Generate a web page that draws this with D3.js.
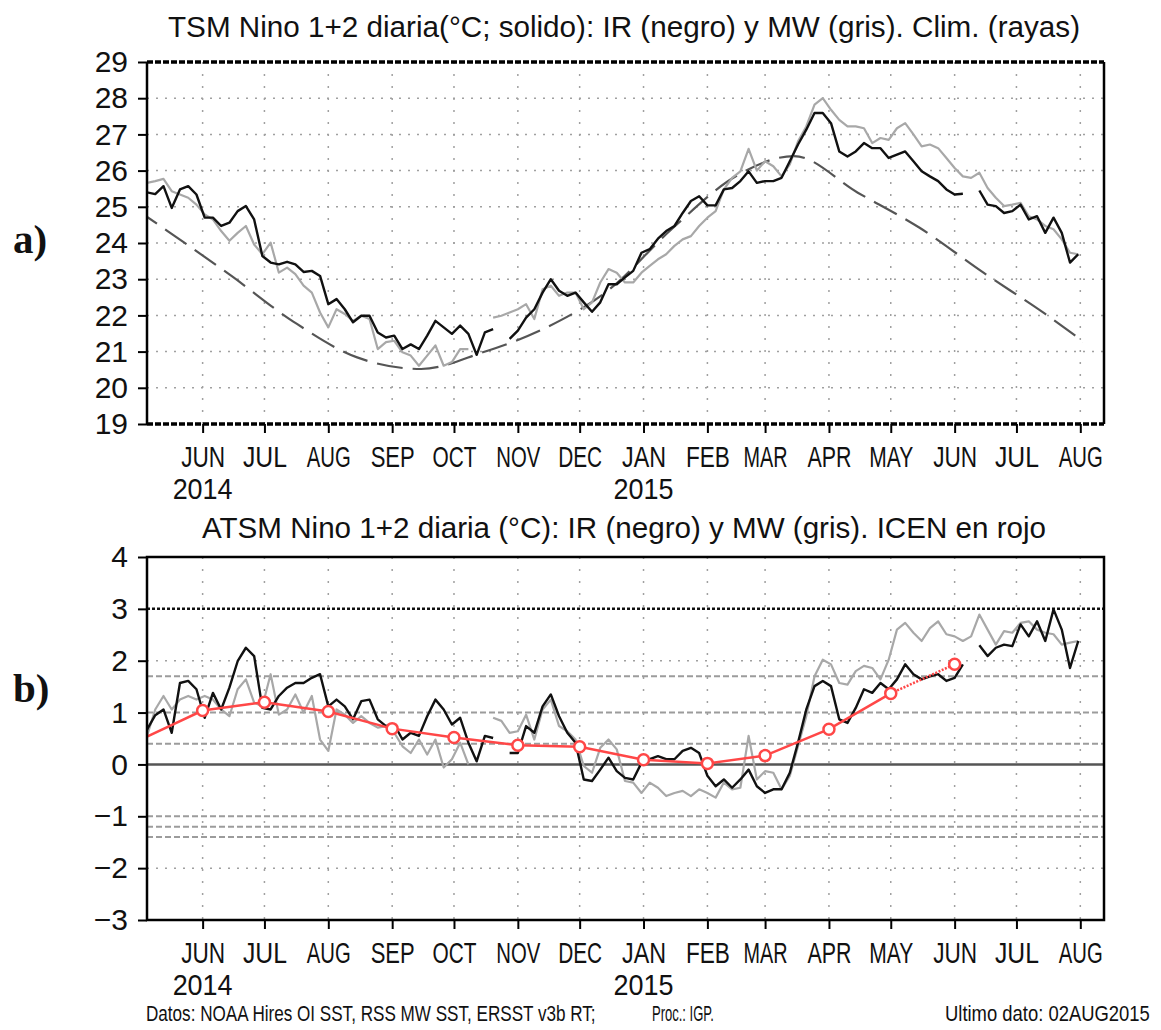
<!DOCTYPE html>
<html lang="es">
<head>
  <meta charset="UTF-8">
  <script src="https://d3js.org/d3.v7.min.js"></script>
  <style>
    body { margin: 0; background: #fff; }
    svg { display: block; }
    text { font-family: "Liberation Sans", Arial, sans-serif; fill: #111; }
  </style>
</head>
<body>

<svg width="1161" height="1030"></svg>

<script>
  // daily series sampled every 4 days starting 5 May 2014
  const START = new Date(2014, 4, 5);
  const STEP = 4;
  const LAST = new Date(2015, 7, 2);

  // SST Nino 1+2 (IR = black, MW = grey)
  const irTSM = [25.4, 25.35, 25.57, 24.97, 25.48, 25.57, 25.34, 24.7, 24.7, 24.47,
    24.56, 24.88, 25.02, 24.65, 23.64, 23.46, 23.41, 23.48, 23.41, 23.2,
    23.23, 23.09, 22.31, 22.45, 22.17, 21.81, 21.99, 21.99, 21.53, 21.39,
    21.44, 21.07, 21.2, 21.07, 21.44, 21.85, 21.67, 21.49, 21.72, 21.49,
    20.91, 21.53, 21.62, null, 21.35, 21.58, 21.94, 22.17, 22.63, 23.0,
    22.68, 22.54, 22.63, 22.36, 22.1, 22.36, 22.86, 22.86, 23.05, 23.23,
    23.73, 23.83, 24.12, 24.33, 24.47, 24.83, 25.16, 25.29, 25.04, 25.04,
    25.48, 25.52, 25.71, 25.98, 25.66, 25.71, 25.71, 25.8, 26.26, 26.72,
    27.13, 27.59, 27.59, 27.31, 26.53, 26.39, 26.53, 26.76, 26.62, 26.62,
    26.35, 26.44, 26.53, 26.26, 25.98, 25.84, 25.71, 25.48, 25.34, 25.36,
    null, 25.45, 25.06, 25.02, 24.83, 24.88, 25.06, 24.65, 24.74, 24.28,
    24.7, 24.28, 23.46, 23.69];

  const mwTSM = [25.66, 25.71, 25.77, 25.43, 25.34, 25.25, 25.06, 24.79, 24.65, 24.33,
    24.06, 24.28, 24.47, 23.96, 23.69, 24.01, 23.18, 23.32, 23.14, 22.82,
    22.63, 22.08, 21.67, 22.17, 22.04, 21.85, 21.99, 21.9, 21.07, 21.26,
    21.3, 20.98, 20.89, 20.61, 20.89, 21.17, 20.61, 20.71, 21.07, 21.07,
    null, null, 21.94, 21.99, 22.08, 22.17, 22.31, 21.9, 22.72, 22.82,
    22.54, 22.63, 22.63, 22.17, 22.36, 22.91, 23.28, 23.18, 22.91, 22.91,
    23.18, 23.37, 23.55, 23.69, 23.92, 24.1, 24.19, 24.47, 24.7, 24.88,
    25.48, 25.8, 25.98, 26.6, 26.0, 26.26, 26.12, 25.84, 26.17, 26.81,
    27.22, 27.82, 28.0, 27.68, 27.4, 27.22, 27.22, 27.17, 26.76, 26.9,
    26.85, 27.17, 27.31, 27.0, 26.67, 26.72, 26.62, 26.35, 26.07, 25.84,
    25.8, 25.94, 25.52, 25.25, 25.02, 25.06, 25.11, 24.74, 24.65, 24.47,
    24.38, 24.1, 23.73, 23.69];

  // SST anomaly Nino 1+2
  const irATSM = [0.67, 0.95, 1.06, 0.61, 1.57, 1.61, 1.45, 0.9, 1.38, 1.06,
    1.48, 1.99, 2.25, 2.09, 1.09, 1.06, 1.32, 1.48, 1.57, 1.57,
    1.67, 1.74, 1.12, 1.25, 1.12, 0.87, 1.22, 1.25, 0.87, 0.74,
    0.77, 0.48, 0.61, 0.55, 0.93, 1.25, 1.06, 0.77, 0.9, 0.42,
    0.06, 0.55, 0.51, null, 0.22, 0.22, 0.74, 0.61, 1.12, 1.35,
    0.93, 0.61, 0.42, -0.29, -0.32, -0.1, 0.13, -0.13, -0.26, -0.29,
    0.03, 0.1, 0.16, 0.1, 0.1, 0.26, 0.32, 0.22, -0.22, -0.42,
    -0.29, -0.45, -0.29, -0.1, -0.42, -0.55, -0.48, -0.48, -0.16, 0.42,
    1.06, 1.51, 1.61, 1.51, 0.87, 0.8, 1.09, 1.45, 1.38, 1.57,
    1.45, 1.64, 1.93, 1.74, 1.64, 1.7, 1.74, 1.61, 1.67, 1.93,
    null, 2.3, 2.09, 2.25, 2.31, 2.28, 2.7, 2.47, 2.76, 2.38,
    2.99, 2.6, 1.86, 2.38];

  const mwATSM = [0.55, 1.06, 1.32, 1.06, 1.25, 1.32, 1.25, 1.32, 1.25, 1.06,
    0.93, 1.45, 1.64, 1.19, 1.12, 1.74, 0.96, 1.06, 1.35, 1.0,
    1.32, 0.48, 0.26, 1.06, 0.96, 0.8, 0.93, 0.8, 0.71, 0.74,
    0.61, 0.35, 0.22, 0.48, 0.19, 0.48, -0.06, 0.1, 0.42, 0.0,
    null, null, 0.9, 0.84, 0.61, 0.64, 0.96, 0.48, 1.06, 1.25,
    0.74, 0.64, 0.48, -0.03, -0.16, 0.32, 0.48, 0.29, -0.32, -0.35,
    -0.55, -0.35, -0.45, -0.61, -0.55, -0.51, -0.61, -0.48, -0.55, -0.64,
    -0.35, -0.48, -0.45, 0.55, -0.29, -0.13, -0.16, -0.48, -0.22, 0.35,
    0.93, 1.7, 2.02, 1.93, 1.57, 1.54, 1.8, 1.9, 1.86, 1.64,
    2.02, 2.6, 2.73, 2.54, 2.38, 2.63, 2.76, 2.51, 2.47, 2.38,
    2.47, 2.89, 2.6, 2.31, 2.57, 2.54, 2.73, 2.76, 2.6, 2.54,
    2.51, 2.31, 2.35, 2.38];

  // climatology, mid-month values
  const climMonths = ["2014-04-15", "2014-05-15", "2014-06-15", "2014-07-15", "2014-08-15",
    "2014-09-15", "2014-10-15", "2014-11-15", "2014-12-15", "2015-01-15", "2015-02-15",
    "2015-03-15", "2015-04-15", "2015-05-15", "2015-06-15", "2015-07-15", "2015-08-15"];
  const climTSM = [25.5, 24.33, 23.09, 21.83, 20.84, 20.52, 20.98, 21.67, 22.7, 24.4,
    25.85, 26.4, 25.39, 24.42, 23.18, 22.04, 20.74];

  // ICEN (red), last value is temporary
  const icenMonths = ["2014-05-01", "2014-06-01", "2014-07-01", "2014-08-01", "2014-09-01",
    "2014-10-01", "2014-11-01", "2014-12-01", "2015-01-01", "2015-02-01", "2015-03-01",
    "2015-04-01", "2015-05-01", "2015-06-01"];
  const icenValues = [0.46, 1.04, 1.2, 1.02, 0.69, 0.52, 0.37, 0.34, 0.09, 0.02, 0.17,
    0.68, 1.37, 1.93];

  // ICEN thresholds
  const warmLevels = [0.4, 1.0, 1.7];
  const coldLevels = [-1.0, -1.2, -1.4];

  const monthLabels = ["JUN", "JUL", "AUG", "SEP", "OCT", "NOV", "DEC", "JAN",
    "FEB", "MAR", "APR", "MAY", "JUN", "JUL", "AUG"];
  const yearLabels = [["2014-06-01", "2014"], ["2015-01-01", "2015"]];

  const parse = d3.timeParse("%Y-%m-%d");
  const svg = d3.select("svg");

  const X0 = 147, X1 = 1104;
  const x = d3.scaleTime()
    .domain([new Date(2014, 4, 5), new Date(2015, 7, 12, 12)])
    .range([X0, X1]);

  const monthDates = d3.timeMonth.range(new Date(2014, 5, 1), new Date(2015, 7, 2));

  const sampleDates = irTSM.map((_, i) => d3.timeDay.offset(START, i * STEP));

  // squeeze a text horizontally so it fills `w` pixels (real transform, keeps bbox honest)
  function squeeze(sel, x0, y0, w) {
    sel.attr("x", 0).attr("y", 0);
    const nat = sel.node().getComputedTextLength();
    sel.attr("transform", `translate(${x0},${y0}) scale(${w / nat},1)`);
  }

  function drawPanel(cfg) {
    const y = d3.scaleLinear().domain(cfg.domain).range([cfg.bottom, cfg.top]);
    const g = svg.append("g");

    g.append("clipPath").attr("id", cfg.id)
      .append("rect")
      .attr("x", X0).attr("y", cfg.top)
      .attr("width", X1 - X0).attr("height", cfg.bottom - cfg.top);

    // dotted grid
    g.selectAll(".hgrid").data(cfg.grid).enter().append("line")
      .attr("x1", X0).attr("x2", X1)
      .attr("y1", d => y(d)).attr("y2", d => y(d))
      .attr("stroke", "#a0a0a0").attr("stroke-width", 1.5)
      .attr("stroke-dasharray", "2,7");

    g.selectAll(".vgrid").data(monthDates).enter().append("line")
      .attr("x1", d => x(d)).attr("x2", d => x(d))
      .attr("y1", cfg.top).attr("y2", cfg.bottom)
      .attr("stroke", "#a0a0a0").attr("stroke-width", 1.5)
      .attr("stroke-dasharray", "2,10");

    if (cfg.extra) cfg.extra(g, y);

    const plot = g.append("g").attr("clip-path", `url(#${cfg.id})`);

    const line = d3.line()
      .defined(d => d[1] != null)
      .x(d => x(d[0]))
      .y(d => y(d[1]));

    if (cfg.underlay) cfg.underlay(plot, y);

    cfg.series.forEach(s => {
      plot.append("path")
        .datum(sampleDates.map((d, i) => [d, s.values[i]]))
        .attr("d", line)
        .attr("fill", "none")
        .attr("stroke", s.color)
        .attr("stroke-width", s.width)
        .attr("stroke-linejoin", "round");
    });

    if (cfg.overlay) cfg.overlay(plot, y);

    // frame
    if (cfg.dashedFrame) {
      [cfg.top, cfg.bottom].forEach(v => {
        g.append("line").attr("x1", X0).attr("x2", X1).attr("y1", v).attr("y2", v)
          .attr("stroke", "#000").attr("stroke-width", 3.5).attr("stroke-dasharray", "6,2");
      });
      [X0, X1].forEach(v => {
        g.append("line").attr("x1", v).attr("x2", v).attr("y1", cfg.top).attr("y2", cfg.bottom)
          .attr("stroke", "#000").attr("stroke-width", 2.5);
      });
    } else {
      g.append("rect").attr("x", X0).attr("y", cfg.top)
        .attr("width", X1 - X0).attr("height", cfg.bottom - cfg.top)
        .attr("fill", "none").attr("stroke", "#000").attr("stroke-width", 2.5);
    }

    // axes
    const ya = g.append("g").attr("transform", `translate(${X0},0)`)
      .call(d3.axisLeft(y).tickValues(cfg.ticks).tickSize(9).tickPadding(10).tickFormat(d3.format("d")));
    ya.select(".domain").remove();
    ya.selectAll("line").attr("stroke", "#000").attr("stroke-width", 2);
    ya.selectAll("text").attr("font-size", 30).attr("font-family", "Liberation Sans, Arial, sans-serif");

    const xa = g.append("g").attr("transform", `translate(0,${cfg.bottom})`)
      .call(d3.axisBottom(x).tickValues(monthDates).tickSize(9).tickPadding(13)
        .tickFormat((d, i) => monthLabels[i]));
    xa.select(".domain").remove();
    xa.selectAll("line").attr("stroke", "#000").attr("stroke-width", 2);
    xa.selectAll("text").attr("font-size", 30)
      .attr("font-family", "Liberation Sans, Arial, sans-serif")
      .attr("textLength", 44).attr("lengthAdjust", "spacingAndGlyphs");

    g.selectAll(".year").data(yearLabels).enter().append("text")
      .attr("x", d => x(parse(d[0])))
      .attr("y", cfg.bottom + 75)
      .attr("text-anchor", "middle")
      .attr("font-size", 30)
      .attr("textLength", 60).attr("lengthAdjust", "spacingAndGlyphs")
      .text(d => d[1]);

    g.append("text")
      .attr("x", cfg.titleX).attr("y", cfg.titleY)
      .attr("font-size", 30)
      .attr("textLength", cfg.titleW).attr("lengthAdjust", "spacingAndGlyphs")
      .text(cfg.title);
  }

  // a) SST
  drawPanel({
    id: "clipA", top: 62, bottom: 424, domain: [19, 29],
    ticks: d3.range(19, 30), grid: d3.range(20, 29),
    dashedFrame: true,
    title: "TSM Nino 1+2 diaria(°C; solido): IR (negro) y MW (gris). Clim. (rayas)",
    titleX: 168, titleY: 37, titleW: 912,
    series: [
      { values: mwTSM, color: "#a8a8a8", width: 2.2 },
      { values: irTSM, color: "#111", width: 2.4 }
    ],
    underlay: (plot, y) => {
      // climatology only up to the last data day
      plot.append("clipPath").attr("id", "clipClim")
        .append("rect").attr("x", X0).attr("y", 62)
        .attr("width", x(LAST) - X0).attr("height", 362);
      plot.append("path")
        .datum(climMonths.map((d, i) => [parse(d), climTSM[i]]))
        .attr("clip-path", "url(#clipClim)")
        .attr("d", d3.line().curve(d3.curveMonotoneX).x(d => x(d[0])).y(d => y(d[1])))
        .attr("fill", "none").attr("stroke", "#555").attr("stroke-width", 2.2)
        .attr("stroke-dasharray", "26,10");
    }
  });

  // b) SST anomaly
  drawPanel({
    id: "clipB", top: 557, bottom: 920, domain: [-3, 4],
    ticks: d3.range(-3, 5), grid: [2, -2],
    title: "ATSM Nino 1+2 diaria (°C): IR (negro) y MW (gris). ICEN en rojo",
    titleX: 202, titleY: 538, titleW: 844,
    extra: (g, y) => {
      g.selectAll(".thr").data(warmLevels.concat(coldLevels)).enter().append("line")
        .attr("x1", X0).attr("x2", X1)
        .attr("y1", d => y(d)).attr("y2", d => y(d))
        .attr("stroke", "#9c9c9c").attr("stroke-width", 2).attr("stroke-dasharray", "6,3");
      g.append("line").attr("x1", X0).attr("x2", X1).attr("y1", y(3)).attr("y2", y(3))
        .attr("stroke", "#111").attr("stroke-width", 2.5).attr("stroke-dasharray", "3,2");
      g.append("line").attr("x1", X0).attr("x2", X1).attr("y1", y(0)).attr("y2", y(0))
        .attr("stroke", "#555").attr("stroke-width", 2.5);
    },
    series: [
      { values: mwATSM, color: "#a8a8a8", width: 2.2 },
      { values: irATSM, color: "#111", width: 2.4 }
    ],
    overlay: (plot, y) => {
      const pts = icenMonths.map((d, i) => [parse(d), icenValues[i]]);
      const ln = d3.line().x(d => x(d[0])).y(d => y(d[1]));
      const red = "#ff4747";
      plot.append("path").datum(pts.slice(0, pts.length - 1)).attr("d", ln)
        .attr("fill", "none").attr("stroke", red).attr("stroke-width", 2.5);
      plot.append("path").datum(pts.slice(pts.length - 2)).attr("d", ln)
        .attr("fill", "none").attr("stroke", red).attr("stroke-width", 2.5)
        .attr("stroke-dasharray", "2,1.5");
      plot.selectAll(".icen").data(pts).enter().append("circle")
        .attr("cx", d => x(d[0])).attr("cy", d => y(d[1])).attr("r", 5.5)
        .attr("fill", "#fff").attr("stroke", red).attr("stroke-width", 2.5);
    }
  });

  // panel letters
  [["a)", 253], ["b)", 702]].forEach(([t, yy]) => {
    svg.append("text").attr("x", 13).attr("y", yy)
      .style("font-family", "'Liberation Serif', 'Times New Roman', serif")
      .attr("font-weight", "bold").attr("font-size", 41).text(t);
  });

  // footer
  const footer = [
    [146, 450, "Datos: NOAA Hires OI SST, RSS MW SST, ERSST v3b RT;"],
    [652, 62, "Proc.: IGP."],
    [945, 205, "Ultimo dato: 02AUG2015"]
  ];
  footer.forEach(([fx, fw, ft]) => {
    svg.append("text").attr("font-size", 22).text(ft).call(squeeze, fx, 1021, fw);
  });
</script>

</body>
</html>
